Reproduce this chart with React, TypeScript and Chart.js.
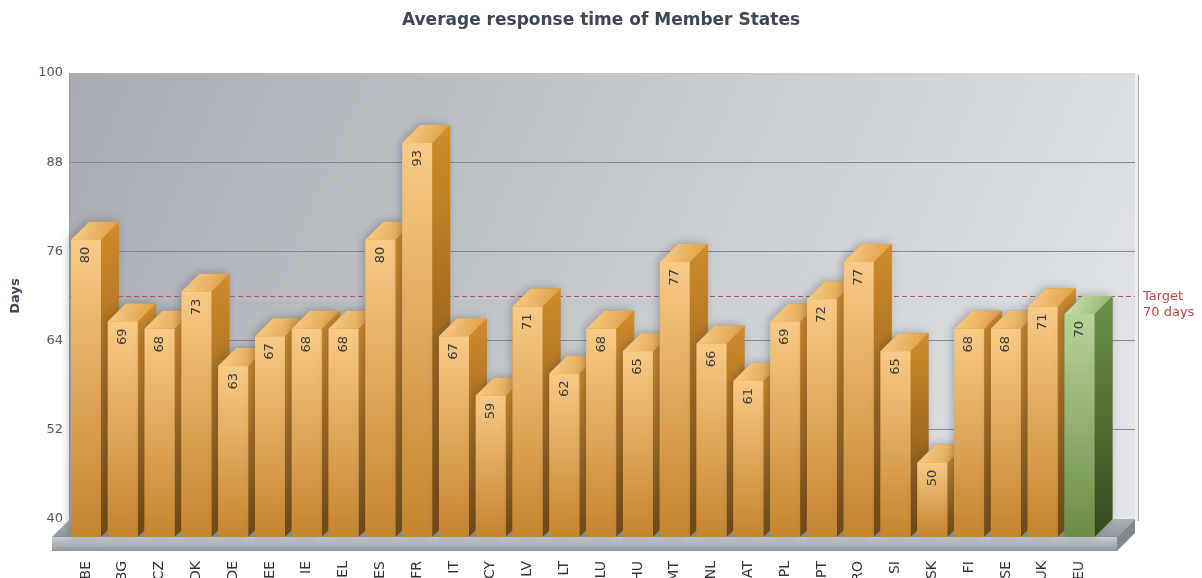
import React, { useEffect, useRef } from 'react';
import { Chart, registerables } from 'chart.js';

Chart.register(...registerables);

// ---- data ----
const categories = ['BE', 'BG', 'CZ', 'DK', 'DE', 'EE', 'IE', 'EL', 'ES', 'FR', 'IT', 'CY', 'LV', 'LT', 'LU', 'HU', 'MT', 'NL', 'AT', 'PL', 'PT', 'RO', 'SI', 'SK', 'FI', 'SE', 'UK', 'EU'];
const responseDays = [80, 69, 68, 73, 63, 67, 68, 68, 80, 93, 67, 59, 71, 62, 68, 65, 77, 66, 61, 69, 72, 77, 65, 50, 68, 68, 71, 70];
const yTicks = [40, 52, 64, 76, 88, 100];
const targetDays = 70;
const targetLabel = ['Target', '70 days'];
const titleText = 'Average response time of Member States';
const yTitle = 'Days';
const highlightCategory = 'EU';

// ---- 3D geometry / style ----
const DX = 18;
const DY = 18;
const FACE_W = 30;
const FLOOR_H = 14;

const orange = {
  frontTop: '#f8ca86', frontBottom: '#c4852e',
  sideTop: '#d08c2c', sideBottom: '#724810',
  topA: '#f8d292', topB: '#dc9a3c',
};
const green = {
  frontTop: '#b6d39e', frontBottom: '#6b8c44',
  sideTop: '#6f9249', sideBottom: '#33491d',
  topA: '#cfe4b8', topB: '#8fb067',
};

const threeD = {
  id: 'threeD',
  beforeDraw(chart: any) {
    const { ctx, chartArea: a } = chart;
    ctx.save();
    const g = ctx.createLinearGradient(a.left, a.top, a.right, a.bottom);
    g.addColorStop(0, '#a8acb2');
    g.addColorStop(0.55, '#c9ccd1');
    g.addColorStop(1, '#e4e6eb');
    ctx.fillStyle = g;
    ctx.fillRect(a.left, a.top, a.right - a.left, a.bottom - a.top);
    // right edge of the wall
    ctx.fillStyle = '#eceef1';
    ctx.fillRect(a.right, a.top, 3, a.bottom - a.top + 2);
    ctx.fillStyle = '#9ea4ab';
    ctx.fillRect(a.right + 3, a.top + 2, 1, a.bottom - a.top);
    // left edge
    ctx.fillStyle = '#9aa0a8';
    ctx.fillRect(a.left - 1, a.top, 1, a.bottom - a.top);
    ctx.restore();
  },
  beforeDatasetsDraw(chart: any) {
    const { ctx, chartArea: a, scales } = chart;
    const L = a.left, R = a.right, B = a.bottom;
    ctx.save();
    // target line
    const ty = scales.y.getPixelForValue(targetDays);
    ctx.strokeStyle = '#b9545a';
    ctx.lineWidth = 1;
    ctx.setLineDash([5, 3]);
    ctx.beginPath();
    ctx.moveTo(L, Math.round(ty) + 0.5);
    ctx.lineTo(R, Math.round(ty) + 0.5);
    ctx.stroke();
    ctx.setLineDash([]);
    ctx.fillStyle = '#b9474c';
    ctx.font = '13px "DejaVu Sans"';
    ctx.textAlign = 'left';
    ctx.textBaseline = 'middle';
    ctx.fillText(targetLabel[0], R + 8, ty + 1);
    ctx.fillText(targetLabel[1], R + 8, ty + 17);

    // floor top surface
    const gt = ctx.createLinearGradient(0, B, 0, B + DY);
    gt.addColorStop(0, '#aab1b8');
    gt.addColorStop(1, '#8e979f');
    ctx.fillStyle = gt;
    ctx.beginPath();
    ctx.moveTo(L, B);
    ctx.lineTo(R, B);
    ctx.lineTo(R - DX, B + DY);
    ctx.lineTo(L - DX, B + DY);
    ctx.closePath();
    ctx.fill();
    // floor front
    const gf = ctx.createLinearGradient(0, B + DY, 0, B + DY + FLOOR_H);
    gf.addColorStop(0, '#c9ced3');
    gf.addColorStop(1, '#8f979e');
    ctx.fillStyle = gf;
    ctx.fillRect(L - DX, B + DY, R - L, FLOOR_H);
    // floor right side
    ctx.fillStyle = '#7f8890';
    ctx.beginPath();
    ctx.moveTo(R - DX, B + DY);
    ctx.lineTo(R, B);
    ctx.lineTo(R, B + FLOOR_H);
    ctx.lineTo(R - DX, B + DY + FLOOR_H);
    ctx.closePath();
    ctx.fill();
    ctx.restore();
  },
  afterDatasetsDraw(chart: any) {
    const { ctx, chartArea: a } = chart;
    const B = a.bottom;
    const meta = chart.getDatasetMeta(0);
    ctx.save();
    meta.data.forEach((el: any, i: number) => {
      const { x, y } = el.getProps(['x', 'y'], true);
      const c = categories[i] === highlightCategory ? green : orange;
      const fl = x - DX - FACE_W / 2;
      const fr = fl + FACE_W;
      const ft = y + DY;
      const fb = B + DY;

      // soft shadow on the wall
      ctx.save();
      ctx.shadowColor = 'rgba(60,60,70,0.35)';
      ctx.shadowBlur = 8;
      ctx.shadowOffsetX = -2;
      ctx.shadowOffsetY = -1;
      ctx.fillStyle = c.sideTop;
      ctx.beginPath();
      ctx.moveTo(fl, ft);
      ctx.lineTo(fl + DX, ft - DY);
      ctx.lineTo(fr + DX, ft - DY);
      ctx.lineTo(fr + DX, B);
      ctx.lineTo(fr, fb);
      ctx.lineTo(fl, fb);
      ctx.closePath();
      ctx.fill();
      ctx.restore();

      // side face
      const gs = ctx.createLinearGradient(0, ft - DY, 0, fb);
      gs.addColorStop(0, c.sideTop);
      gs.addColorStop(1, c.sideBottom);
      ctx.fillStyle = gs;
      ctx.beginPath();
      ctx.moveTo(fr, ft);
      ctx.lineTo(fr + DX, ft - DY);
      ctx.lineTo(fr + DX, B);
      ctx.lineTo(fr, fb);
      ctx.closePath();
      ctx.fill();

      // top face
      const gtp = ctx.createLinearGradient(fl, ft - DY, fr + DX, ft);
      gtp.addColorStop(0, c.topA);
      gtp.addColorStop(1, c.topB);
      ctx.fillStyle = gtp;
      ctx.beginPath();
      ctx.moveTo(fl, ft);
      ctx.lineTo(fl + DX, ft - DY);
      ctx.lineTo(fr + DX, ft - DY);
      ctx.lineTo(fr, ft);
      ctx.closePath();
      ctx.fill();

      // front face
      const gfr = ctx.createLinearGradient(0, ft, 0, fb);
      gfr.addColorStop(0, c.frontTop);
      gfr.addColorStop(1, c.frontBottom);
      ctx.fillStyle = gfr;
      ctx.fillRect(fl, ft, FACE_W, fb - ft);

      // value label (reads bottom-to-top, ending near the bar top)
      ctx.save();
      ctx.translate(fl + FACE_W / 2, ft + 7);
      ctx.rotate(-Math.PI / 2);
      ctx.fillStyle = '#3a3a3a';
      ctx.font = '13px "DejaVu Sans"';
      ctx.textAlign = 'right';
      ctx.textBaseline = 'middle';
      ctx.fillText(String(responseDays[i]), 0, 0);
      ctx.restore();
    });
    ctx.restore();
  },
};

export default function App() {
  const ref = useRef<HTMLCanvasElement | null>(null);

  useEffect(() => {
    if (!ref.current) return;
    const chart = new Chart(ref.current, {
      type: 'bar',
      data: {
        datasets: [
          {
            label: 'Days',
            data: responseDays.map((v, i) => ({ x: i, y: v })),
            backgroundColor: 'rgba(0,0,0,0)',
            borderWidth: 0,
            barThickness: FACE_W,
          },
        ],
      },
      options: {
        responsive: false,
        animation: false,
        layout: { padding: { left: 0, right: 0, top: 0, bottom: 0 } },
        plugins: {
          legend: { display: false },
          tooltip: { enabled: false },
          title: {
            display: true,
            text: titleText,
            color: '#3d4756',
            font: { family: 'DejaVu Sans', size: 17, weight: 'bold' },
            padding: { top: 10, bottom: 42.6 },
          },
        },
        scales: {
          x: {
            type: 'linear',
            min: -0.924,
            max: 28.02,
            offset: false,
            grid: { display: false, drawTicks: false },
            border: { display: false },
            afterBuildTicks: (s: any) => {
              s.ticks = categories.map((_, i) => ({ value: i }));
            },
            afterFit: (s: any) => {
              s.height = 59;
            },
            ticks: {
              autoSkip: false,
              minRotation: 90,
              maxRotation: 90,
              padding: 42,
              labelOffset: -18,
              color: '#333',
              font: { family: 'DejaVu Sans', size: 14 },
              callback: (v: any) => categories[v] ?? '',
            },
          },
          y: {
            min: 40,
            max: 100,
            afterBuildTicks: (s: any) => {
              s.ticks = yTicks.map((v) => ({ value: v }));
            },
            afterFit: (s: any) => {
              s.width = 70;
            },
            grid: {
              drawTicks: false,
              lineWidth: 1,
              color: (c: any) =>
                c.tick && (c.tick.value === 40 || c.tick.value === 100) ? 'rgba(0,0,0,0)' : '#7c8997',
            },
            border: { display: false },
            ticks: {
              padding: 7,
              color: '#4f5866',
              font: { family: 'DejaVu Sans', size: 13 },
            },
            title: {
              display: true,
              text: yTitle,
              color: '#3d4756',
              font: { family: 'DejaVu Sans', size: 13, weight: 'bold' },
              padding: { top: 8, bottom: 0 },
            },
          },
          // reserved margin on the right for the target label
          yRight: {
            position: 'right',
            min: 40,
            max: 100,
            grid: { display: false, drawTicks: false },
            border: { display: false },
            ticks: { display: false },
            afterFit: (s: any) => {
              s.width = 67;
            },
          },
        },
      },
      plugins: [threeD],
    } as any);
    return () => chart.destroy();
  }, []);

  return (
    <div style={{ position: 'fixed', left: 0, top: 0, width: 1202, height: 578, overflow: 'hidden', background: '#fff' }}>
      <canvas ref={ref} width={1202} height={578} style={{ display: 'block', width: 1202, height: 578 }} />
    </div>
  );
}
